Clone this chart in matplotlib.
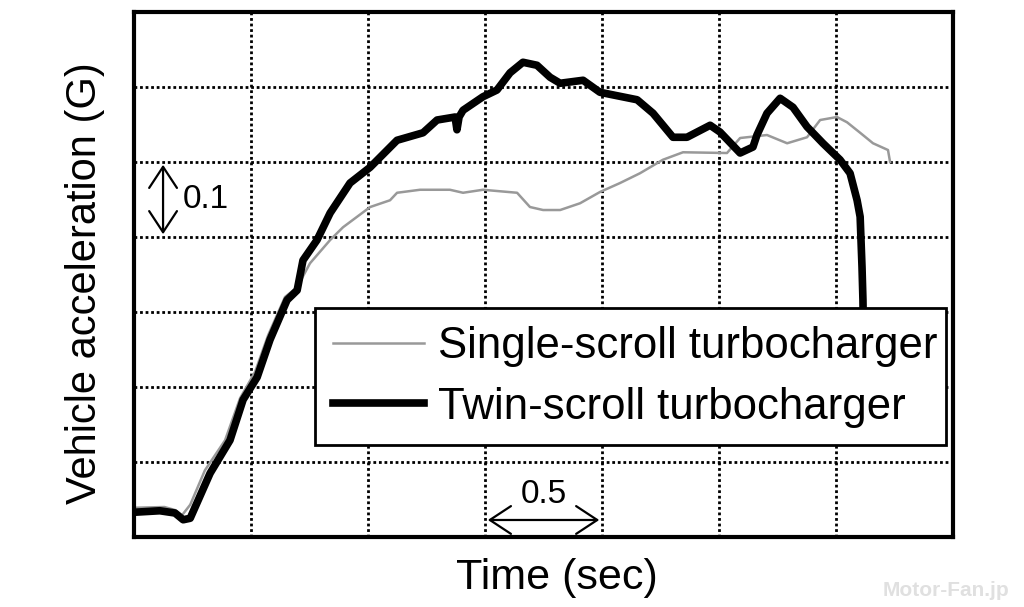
import matplotlib.pyplot as plt

# time (s) and acceleration (G)
twin_t = [0.00, 0.11, 0.175, 0.21, 0.24, 0.325, 0.41, 0.466, 0.526, 0.581, 0.654, 0.697,
          0.722, 0.782, 0.838, 0.923, 1.009, 1.124, 1.235, 1.295, 1.372, 1.380, 1.389, 1.406,
          1.491, 1.551, 1.607, 1.662, 1.722, 1.778, 1.821, 1.919, 1.991, 2.150, 2.218, 2.303,
          2.363, 2.462, 2.504, 2.590, 2.645, 2.662, 2.705, 2.761, 2.816, 2.876, 2.944, 3.017,
          3.060, 3.090, 3.103, 3.111, 3.115, 3.120]
twin_g = [0.033, 0.035, 0.032, 0.023, 0.025, 0.085, 0.129, 0.183, 0.213, 0.263, 0.316, 0.329,
          0.369, 0.396, 0.432, 0.472, 0.493, 0.529, 0.539, 0.556, 0.560, 0.543, 0.560, 0.569,
          0.587, 0.596, 0.619, 0.633, 0.629, 0.613, 0.605, 0.609, 0.593, 0.583, 0.565, 0.533,
          0.533, 0.549, 0.540, 0.512, 0.520, 0.536, 0.565, 0.585, 0.573, 0.547, 0.525, 0.503,
          0.485, 0.449, 0.427, 0.360, 0.316, 0.209]

single_t = [0.00, 0.13, 0.175, 0.205, 0.24, 0.303, 0.389, 0.453, 0.517, 0.573, 0.645, 0.697,
            0.752, 0.838, 0.893, 1.009, 1.094, 1.124, 1.222, 1.350, 1.406, 1.491, 1.637, 1.692,
            1.748, 1.821, 1.906, 1.991, 2.077, 2.162, 2.260, 2.346, 2.534, 2.590, 2.705, 2.791,
            2.876, 2.932, 3.004, 3.047, 3.103, 3.158, 3.222, 3.231]
single_g = [0.039, 0.040, 0.036, 0.029, 0.043, 0.089, 0.129, 0.185, 0.220, 0.269, 0.320, 0.333,
            0.365, 0.396, 0.413, 0.440, 0.449, 0.459, 0.463, 0.463, 0.459, 0.463, 0.459, 0.440,
            0.436, 0.436, 0.445, 0.460, 0.472, 0.485, 0.503, 0.513, 0.512, 0.532, 0.536, 0.525,
            0.533, 0.556, 0.560, 0.553, 0.539, 0.525, 0.516, 0.500]

grid_t = [0.5, 1.0, 1.5, 2.0, 2.5, 3.0]
grid_g = [0.1, 0.2, 0.3, 0.4, 0.5, 0.6]

plt.rcParams['font.family'] = 'Liberation Sans'

fig = plt.figure(figsize=(10.24, 6.07), dpi=100)
ax = fig.add_axes([0.1309, 0.1153, 0.7998, 0.8649])

ax.plot(single_t, single_g, color='#999999', lw=1.8, label='Single-scroll turbocharger')
ax.plot(twin_t, twin_g, color='black', lw=5.5, label='Twin-scroll turbocharger')

ax.set_xlim(0, 3.5)
ax.set_ylim(0, 0.7)
ax.set_xticks(grid_t)
ax.set_yticks(grid_g)
ax.tick_params(length=0, labelbottom=False, labelleft=False)
ax.grid(True, color='black', linestyle=(0, (1, 1)), linewidth=2)
for s in ax.spines.values():
    s.set_linewidth(3)

ax.set_xlabel('Time (sec)', fontsize=31)
ax.set_ylabel('Vehicle acceleration (G)', fontsize=30)
ax.xaxis.set_label_coords(0.5165, -0.04)
ax.yaxis.set_label_coords(-0.036, 0.484)

# scale arrows
arrow = dict(arrowstyle='<->,head_length=0.38,head_width=0.25', lw=1.6, mutation_scale=40)
ax.annotate('', xy=(0.124, 0.4), xytext=(0.124, 0.5), arrowprops=arrow)
ax.text(0.21, 0.45, '0.1', fontsize=24, va='center', ha='left')
ax.annotate('', xy=(1.5, 0.0227), xytext=(2.0, 0.0227), arrowprops=arrow)
ax.text(1.75, 0.036, '0.5', fontsize=24, va='bottom', ha='center')

leg = ax.legend(loc='lower left', bbox_to_anchor=(0.221, 0.175, 0.770, 0.255), mode='expand',
                fontsize=31.5, frameon=True, fancybox=False, framealpha=1,
                edgecolor='black', handlelength=2.1, handletextpad=0.3,
                borderpad=0.4, labelspacing=0.45, borderaxespad=0)
leg.get_frame().set_linewidth(2)

fig.text(0.986, 0.012, 'Motor-Fan.jp', color='#e0e0e0', fontsize=15,
         ha='right', va='bottom', fontweight='bold')

fig.savefig('out.png', dpi=100)
